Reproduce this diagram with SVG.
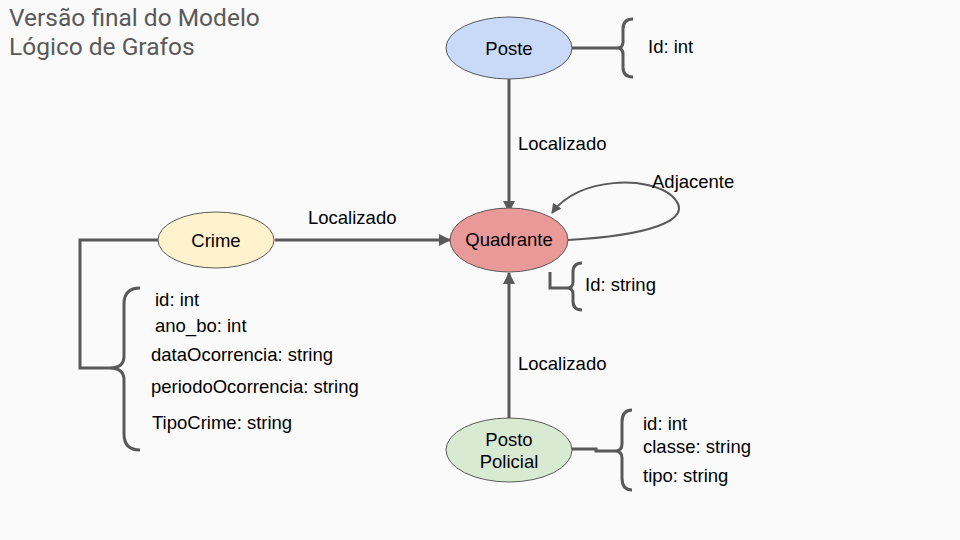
<svg xmlns="http://www.w3.org/2000/svg" width="960" height="540" viewBox="0 0 960 540">
<defs>
<marker id="arr" viewBox="0 0 12 12" refX="11" refY="6" markerWidth="12" markerHeight="12" markerUnits="userSpaceOnUse" orient="auto">
<path d="M0,0 L12,6 L0,12 Z" fill="#595959"/>
</marker>
<marker id="arrs" viewBox="0 0 10 10" refX="9" refY="5" markerWidth="10" markerHeight="10" markerUnits="userSpaceOnUse" orient="auto">
<path d="M0,0 L10,5 L0,10 Z" fill="#595959"/>
</marker>
<style>
.t{font-family:"Liberation Sans",Arial,sans-serif;font-size:18.5px;fill:#000}
.title{font-family:Roboto,"Liberation Sans",sans-serif;font-size:24.5px;fill:#595959}
.n{stroke:#595959;stroke-width:1}
.c{fill:none;stroke:#595959;stroke-width:3}
.b{fill:none;stroke:#595959;stroke-width:3}
</style>
</defs>
<rect width="960" height="540" fill="#fafafa"/>
<text class="title" x="9" y="26">Versão final do Modelo</text>
<text class="title" x="9" y="55">Lógico de Grafos</text>

<g id="connectors">
<path class="c" d="M509,79 L509,212" marker-end="url(#arr)"/>
<path class="c" d="M275,240 L450,240" marker-end="url(#arr)"/>
<path class="c" d="M509,418 L509,273" marker-end="url(#arr)"/>
<path class="c" style="stroke-width:2" d="M568,240 C640,236 700,222 672,196 C650,176 578,176 552,213" marker-end="url(#arrs)"/>
<text class="t" x="518" y="150">Localizado</text>
<text class="t" x="308" y="224">Localizado</text>
<text class="t" x="518" y="370">Localizado</text>
<text class="t" x="652" y="188">Adjacente</text>
</g>

<g id="poste">
<ellipse class="n" cx="509" cy="48" rx="63" ry="31" fill="#c9daf8"/>
<text class="t" x="509" y="55" text-anchor="middle">Poste</text>
<path class="c" d="M572,48 L617,48"/>
<path class="b" d="M633,19 Q623,19 623,29 L623,42 Q623,48 617,48 Q623,48 623,54 L623,67 Q623,77 633,77"/>
<text class="t" x="648" y="53">Id: int</text>
</g>

<g id="quadrante">
<ellipse class="n" cx="509" cy="240" rx="59" ry="32" fill="#ea9999"/>
<text class="t" x="509" y="246" text-anchor="middle">Quadrante</text>
<path class="c" d="M550,272 L550,288 L567,288"/>
<path class="b" d="M582,263 Q573,263 573,272 L573,282 Q573,288 567,288 Q573,288 573,294 L573,301 Q573,310 582,310"/>
<text class="t" x="585" y="291">Id: string</text>
</g>

<g id="crime">
<ellipse class="n" cx="216" cy="240" rx="58" ry="28" fill="#fff2cc"/>
<text class="t" x="216" y="247" text-anchor="middle">Crime</text>
<path class="c" d="M158,240 L80,240 L80,368 L110,368"/>
<path class="b" d="M140,288 Q124,288 124,304 L124,356 Q124,368 110,368 Q124,368 124,380 L124,434 Q124,450 140,450"/>
<text class="t" x="155" y="306">id: int</text>
<text class="t" x="155" y="332">ano_bo: int</text>
<text class="t" x="151" y="361">dataOcorrencia: string</text>
<text class="t" x="151" y="393">periodoOcorrencia: string</text>
<text class="t" x="152" y="429">TipoCrime: string</text>
</g>

<g id="posto">
<ellipse class="n" cx="509" cy="450" rx="63" ry="32" fill="#d9ead3"/>
<text class="t" x="509" y="446" text-anchor="middle">Posto</text>
<text class="t" x="509" y="468" text-anchor="middle">Policial</text>
<path class="c" d="M572,449 L596,449 L596,451 L615,451"/>
<path class="b" d="M632,410 Q622,410 622,422 L622,444 Q622,451 615,451 Q622,451 622,458 L622,478 Q622,490 632,490"/>
<text class="t" x="643" y="430">id: int</text>
<text class="t" x="643" y="453">classe: string</text>
<text class="t" x="643" y="482">tipo: string</text>
</g>
</svg>
